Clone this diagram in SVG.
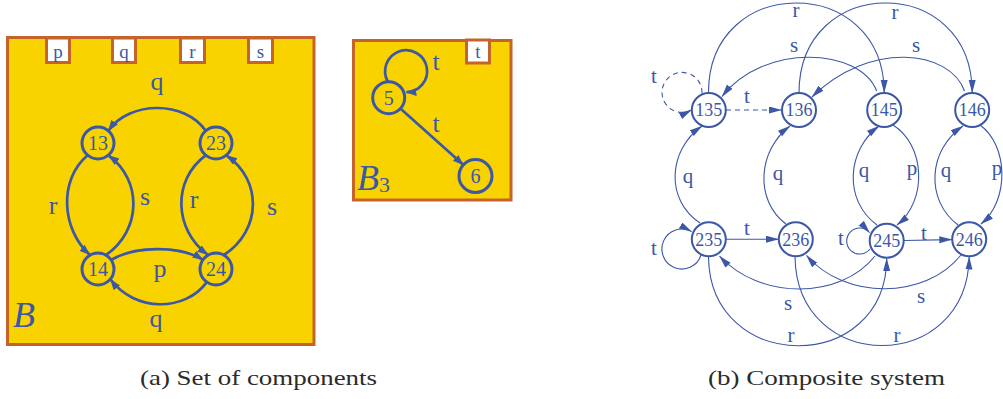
<svg xmlns="http://www.w3.org/2000/svg" width="1003" height="399" viewBox="0 0 1003 399">
  <style>
    .box { fill: #f9d300; stroke: #c4632a; stroke-width: 3; }
    .port { fill: #ffffff; stroke: #c4632a; stroke-width: 3; }
    .n1 { fill: none; stroke: #3b57a6; stroke-width: 3; }
    .e1 { fill: none; stroke: #3b57a6; stroke-width: 2.7; marker-end: url(#a1); }
    .n2 { fill: #ffffff; stroke: #3b57a6; stroke-width: 2; }
    .e2 { fill: none; stroke: #3b57a6; stroke-width: 1.1; marker-end: url(#a2); }
    .dash { stroke-dasharray: 5 4; }
    text { font-family: "Liberation Serif", "Times New Roman", serif; fill: #3b57a6; text-anchor: middle; }
    .pl { font-size: 19px; }
    .nl1 { font-size: 20px; }
    .el1 { font-size: 26px; }
    .big { font-size: 36px; font-style: italic; text-anchor: start; }
    .nl2 { font-size: 18px; }
    .el2 { font-size: 21px; }
    .cap { font-size: 21px; fill: #2b2b2b; }
  </style>
  <defs>
    <marker id="a1" markerUnits="userSpaceOnUse" markerWidth="12" markerHeight="9" refX="10" refY="4" orient="auto">
      <path d="M0,0 L11,4 L0,8 z" fill="#3b57a6"/>
    </marker>
    <marker id="a2" markerUnits="userSpaceOnUse" markerWidth="14" markerHeight="8" refX="12.5" refY="3.5" orient="auto">
      <path d="M0,0 L13,3.5 L0,7 z" fill="#3b57a6"/>
    </marker>
  </defs>

  <!-- Component B -->
  <g id="compB">
    <rect class="box" x="7.5" y="37.5" width="306.5" height="307"/>
    <rect class="port" x="46.5" y="38" width="23" height="24.5"/>
    <rect class="port" x="112.5" y="38" width="23" height="24.5"/>
    <rect class="port" x="180.5" y="38" width="24" height="24.5"/>
    <rect class="port" x="248.5" y="38" width="24" height="24.5"/>
    <text class="pl" x="58" y="58">p</text>
    <text class="pl" x="124" y="58">q</text>
    <text class="pl" x="192.5" y="58">r</text>
    <text class="pl" x="260.5" y="58">s</text>
    <text class="big" x="13" y="327">B</text>
  </g>

  <g id="n13"><circle class="n1" cx="98" cy="143" r="16"/><text class="nl1" x="98" y="150">13</text></g>
  <g id="n23"><circle class="n1" cx="216" cy="143" r="16"/><text class="nl1" x="216" y="150">23</text></g>
  <g id="n14"><circle class="n1" cx="98" cy="269" r="16"/><text class="nl1" x="98" y="276">14</text></g>
  <g id="n24"><circle class="n1" cx="216" cy="269" r="16"/><text class="nl1" x="216" y="276">24</text></g>

  <!-- Component B3 -->
  <g id="compB3">
    <rect class="box" x="353.5" y="40.5" width="157.5" height="159.5"/>
    <rect class="port" x="466.5" y="40" width="23" height="23"/>
    <text class="pl" x="478" y="58">t</text>
    <text class="big" x="357" y="190">B<tspan font-size="22px" font-style="normal" dy="2">3</tspan></text>
  </g>
  <g id="n5"><circle class="n1" cx="388.7" cy="97.7" r="16"/><text class="nl1" x="388.7" y="104.5">5</text></g>
  <g id="n6"><circle class="n1" cx="475.5" cy="176" r="16.5"/><text class="nl1" x="475.5" y="183">6</text></g>

  <!-- Composite system nodes -->
  <g id="c135"><circle class="n2" cx="708.8" cy="110" r="17"/><text class="nl2" x="708.8" y="116.3">135</text></g>
  <g id="c136"><circle class="n2" cx="799" cy="110" r="17"/><text class="nl2" x="799" y="116.3">136</text></g>
  <g id="c145"><circle class="n2" cx="884.2" cy="110" r="17"/><text class="nl2" x="884.2" y="116.3">145</text></g>
  <g id="c146"><circle class="n2" cx="972.2" cy="110" r="17"/><text class="nl2" x="972.2" y="116.3">146</text></g>
  <g id="c235"><circle class="n2" cx="708.8" cy="239.2" r="17"/><text class="nl2" x="708.8" y="245.5">235</text></g>
  <g id="c236"><circle class="n2" cx="795.8" cy="239.2" r="17"/><text class="nl2" x="795.8" y="245.5">236</text></g>
  <g id="c245"><circle class="n2" cx="886.7" cy="240.8" r="17"/><text class="nl2" x="886.7" y="247.1">245</text></g>
  <g id="c246"><circle class="n2" cx="969.2" cy="239.2" r="17"/><text class="nl2" x="969.2" y="245.5">246</text></g>

  <!-- Connectors -->
  <g id="edges">
    <!-- B -->
    <path class="e1" d="M205.7,130.7 C185,100.5 130,100.5 108.8,130.2"/>
    <path class="e1" d="M87.7,155.3 C58,180 62,230 89.5,254.5"/>
    <path class="e1" d="M106,255 C142,230 142,180 109,155.8"/>
    <path class="e1" d="M205.7,155.3 C172,180 174,230 207.5,254.5"/>
    <path class="e1" d="M224,255 C262,230 262,180 227,155.8"/>
    <path class="e1" d="M111,260 C135,245.5 180,245.5 202.5,259.5"/>
    <path class="e1" d="M206.8,282.1 C185,312 135,312 110.8,279.8"/>
    <!-- B3 -->
    <path class="e1" d="M387.8,81.5 A21,21 0 1 1 406.5,92.2"/>
    <path class="e1" d="M400.4,108.6 L463,164.5"/>

    <!-- composite: r and s arcs over the top -->
    <path class="e2" d="M708.5,93 C708,-27 884,-27 884.2,92.5"/>
    <path class="e2" d="M799,93 C799,-27 972,-27 972.2,92.5"/>
    <path class="e2" d="M876.7,91 C860,48 765,42 722,96.5"/>
    <path class="e2" d="M964.5,91 C950,50 870,40 812,97"/>
    <!-- t moves in the top row -->
    <path class="e2 dash" d="M702,93 A20,20 0 1 0 691.5,110"/>
    <path class="e2 dash" d="M726,110 L781.5,110"/>
    <!-- q / p between the rows -->
    <path class="e2" d="M700,223 C665,200 668,150 702,126"/>
    <path class="e2" d="M786,224 C754,200 758,150 790,126"/>
    <path class="e2" d="M877,225 C843,200 847,150 879,126"/>
    <path class="e2" d="M893,125 C925,145 928,200 897,225"/>
    <path class="e2" d="M958,225 C925,200 928,150 963,126"/>
    <path class="e2" d="M980,125 C1008,145 1010,200 981,224"/>
    <!-- t moves in the bottom row -->
    <path class="e2" d="M701,255 A20,20 0 1 1 691.5,231.5"/>
    <path class="e2" d="M726,239.2 L778.5,239.2"/>
    <path class="e2" d="M870,249 A13,13 0 1 1 869.5,232.5"/>
    <path class="e2" d="M904,240.5 L951.8,239.6"/>
    <!-- s and r arcs under the bottom row -->
    <path class="e2" d="M875,256 C840,300 760,300 719.5,256"/>
    <path class="e2" d="M961,255 C925,300 845,300 806.5,255.5"/>
    <path class="e2" d="M708.5,257 C710,375 886,375 886.7,258.5"/>
    <path class="e2" d="M795,257 C797,375 967,375 969.2,257"/>
  </g>

  <!-- Connector labels, B -->
  <g id="labelsB">
    <text class="el1" x="157" y="90">q</text>
    <text class="el1" x="53" y="214">r</text>
    <text class="el1" x="145" y="205">s</text>
    <text class="el1" x="194" y="208">r</text>
    <text class="el1" x="272" y="215">s</text>
    <text class="el1" x="160" y="277">p</text>
    <text class="el1" x="156" y="327">q</text>
    <text class="el1" x="436" y="70">t</text>
    <text class="el1" x="436" y="132">t</text>
  </g>

  <!-- Connector labels, composite -->
  <g id="labelsC">
    <text class="el2" x="654" y="83">t</text>
    <text class="el2" x="747" y="103">t</text>
    <text class="el2" x="796" y="16.5">r</text>
    <text class="el2" x="794" y="52">s</text>
    <text class="el2" x="895" y="19">r</text>
    <text class="el2" x="916" y="52">s</text>
    <text class="el2" x="688" y="183">q</text>
    <text class="el2" x="778" y="180">q</text>
    <text class="el2" x="864" y="177">q</text>
    <text class="el2" x="912" y="175">p</text>
    <text class="el2" x="946" y="177">q</text>
    <text class="el2" x="997" y="175">p</text>
    <text class="el2" x="654" y="255">t</text>
    <text class="el2" x="747" y="235">t</text>
    <text class="el2" x="841" y="245">t</text>
    <text class="el2" x="924" y="240">t</text>
    <text class="el2" x="788" y="310">s</text>
    <text class="el2" x="921" y="303">s</text>
    <text class="el2" x="791" y="342">r</text>
    <text class="el2" x="897" y="342">r</text>
  </g>

  <!-- Captions -->
  <text class="cap" x="258.5" y="385" textLength="237" lengthAdjust="spacingAndGlyphs">(a) Set of components</text>
  <text class="cap" x="826.5" y="385" textLength="237" lengthAdjust="spacingAndGlyphs">(b) Composite system</text>
</svg>
